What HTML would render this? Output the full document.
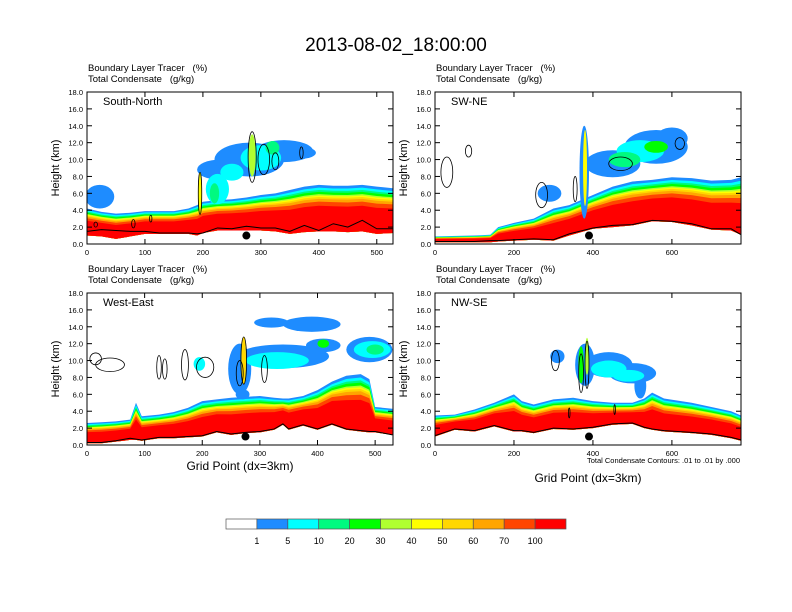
<!DOCTYPE html>
<html><head><meta charset="utf-8"><style>
body{margin:0;background:#fff;}
svg{display:block;font-family:"Liberation Sans",sans-serif;}
text{white-space:pre;}
</style></head><body>
<svg id="chart" width="792" height="612" viewBox="0 0 792 612">
<text x="396" y="51" text-anchor="middle" font-size="19">2013-08-02_18:00:00</text>
<g id="panels"></g>
<g id="colorbar"></g>
</svg>
<script>
const NS="http://www.w3.org/2000/svg";
const colors=["#ffffff","#1e8cff","#00ffff","#00fa80","#00ff00","#b0ff30","#ffff00","#ffd700","#ffa500","#ff4500","#ff0000"];
const cbLabels=["1","5","10","20","30","40","50","60","70","100"];
const bandFrac=[1,0.94,0.89,0.85,0.80,0.77,0.74,0.70,0.64,0.55];

// Panel 1: South-North
const p1Xs=[0,25,50,75,100,125,150,175,190,200,225,250,275,300,325,350,375,400,425,450,475,500,528];
const p1Top=[4.2,3.8,3.6,3.7,3.9,3.9,3.9,4.2,4.6,5.0,5.2,5.3,5.5,5.8,6.0,6.4,6.8,7.0,6.9,6.9,7.0,6.8,6.6];
const p1Bot=[1.0,0.9,0.6,0.9,1.2,1.2,1.2,1.2,1.0,1.3,1.6,1.6,1.6,1.6,1.5,1.2,1.4,1.5,1.5,1.4,1.5,1.2,1.3];
const p1Terr=[1.5,1.7,1.6,1.5,1.5,1.3,1.3,1.3,1.2,1.3,1.9,1.8,2.1,1.9,1.9,1.5,2.2,1.6,2.4,2.0,2.8,1.8,1.8];
const p1CloudX=[22,230,280,340,370,225,300,250,320,220,285,195];
const p1CloudZ=[5.6,8.8,10.0,11.0,10.8,6.5,10.2,8.5,11.4,6.0,10.5,6.0];
const p1CloudRx=[25,40,60,50,25,20,35,20,12,8,6,3];
const p1CloudRz=[1.4,1.2,2.0,1.3,0.7,1.8,1.5,1.0,0.8,1.2,2.5,2.5];
const p1CloudC=[1,1,1,1,1,2,2,2,3,3,5,6];
const p1ContX=[285,305,325,370,195,15,80,110];
const p1ContZ=[10.3,10.0,9.8,10.8,6.0,2.3,2.4,3.0];
const p1ContRx=[7,10,6,3,3,3,3,2];
const p1ContRz=[3.0,1.8,1.0,0.7,2.5,0.3,0.5,0.4];

// Panel 2: SW-NE
const p2Xs=[0,100,140,160,200,250,300,340,400,450,500,550,600,650,700,750,775];
const p2Top=[0.9,1.0,1.1,2.0,2.5,3.0,4.2,4.6,5.8,6.8,7.4,7.6,7.9,7.8,7.5,7.6,7.9];
const p2Bot=[0.2,0.2,0.2,0.3,0.4,0.5,0.4,1.0,1.8,2.0,2.2,2.7,2.6,2.2,1.7,1.6,1.1];
const p2Terr=[0.3,0.3,0.4,0.4,0.5,0.6,0.5,1.2,1.9,2.2,2.3,2.8,2.7,2.4,1.8,1.8,1.1];
const p2CloudX=[290,378,450,560,600,520,480,560,380];
const p2CloudZ=[6.0,8.5,9.5,11.5,12.5,11.0,10.0,11.5,9.0];
const p2CloudRx=[30,12,70,80,40,60,40,30,5];
const p2CloudRz=[1.0,5.5,1.6,2.0,1.3,1.3,0.9,0.7,4.5];
const p2CloudC=[1,1,1,1,1,2,3,4,6];
const p2ContX=[30,85,270,620,470,355];
const p2ContZ=[8.5,11.0,5.8,11.9,9.5,6.5];
const p2ContRx=[15,8,15,12,30,5];
const p2ContRz=[1.8,0.7,1.5,0.7,0.8,1.5];

// Panel 3: West-East
const p3Xs=[0,25,50,75,85,95,125,150,175,200,225,250,275,300,325,340,350,375,400,425,450,475,490,500,530];
const p3Top=[2.6,2.7,2.8,3.0,5.0,3.4,3.6,3.9,4.4,5.2,5.4,5.6,5.7,5.8,5.6,5.5,5.5,5.8,6.5,7.5,8.2,8.4,7.8,4.5,4.3];
const p3Bot=[0.2,0.2,0.4,0.6,0.6,0.5,0.8,0.8,0.9,1.0,1.5,1.2,1.4,1.5,1.8,2.4,1.8,2.3,1.8,2.4,1.8,1.6,1.5,1.5,1.2];
const p3Terr=[0.3,0.3,0.5,0.8,0.7,0.6,0.9,0.9,1.0,1.1,1.6,1.3,1.5,1.6,1.9,2.5,1.9,2.4,1.9,2.5,1.9,1.7,1.6,1.6,1.2];
const p3CloudX=[320,390,265,340,410,270,490,330,495,195,500,410,272];
const p3CloudZ=[14.5,14.3,9.0,10.5,11.8,6.0,11.3,10.0,11.3,9.6,11.3,12.0,10.0];
const p3CloudRx=[30,50,20,80,30,12,40,55,32,10,15,10,4];
const p3CloudRz=[0.6,0.9,3.0,1.4,0.8,0.6,1.5,1.0,1.0,0.8,0.6,0.5,2.8];
const p3CloudC=[1,1,1,1,1,1,1,2,2,2,3,4,7];
const p3ContX=[15,40,125,135,170,205,308,265,272];
const p3ContZ=[10.2,9.5,9.2,9.0,9.5,9.2,9.0,8.5,10.0];
const p3ContRx=[10,25,4,4,6,15,5,6,5];
const p3ContRz=[0.7,0.8,1.4,1.2,1.8,1.2,1.6,1.5,2.8];

// Panel 4: NW-SE
const p4Xs=[0,50,100,150,200,220,250,300,350,400,450,500,530,550,580,650,700,750,775];
const p4Top=[3.5,3.6,4.2,5.0,6.0,5.2,4.8,5.4,5.6,5.2,5.0,5.0,5.5,6.2,5.5,5.0,4.5,4.0,3.5];
const p4Bot=[1.0,1.8,1.6,2.2,1.6,1.6,1.4,1.9,1.8,2.0,2.4,2.5,2.0,1.8,1.6,1.4,1.2,0.8,0.5];
const p4Terr=[1.1,1.9,1.7,2.3,1.7,1.7,1.5,2.0,1.9,2.1,2.5,2.6,2.1,1.9,1.7,1.5,1.3,0.9,0.6];
const p4CloudX=[310,380,440,500,520,440,490,370,385];
const p4CloudZ=[10.5,9.5,9.5,8.5,7.0,9.0,8.2,9.5,10.5];
const p4CloudRx=[18,25,60,60,15,45,40,7,5];
const p4CloudRz=[0.8,2.5,1.5,1.2,1.5,1.0,0.7,2.2,2.2];
const p4CloudC=[1,1,1,1,1,2,2,4,5];
const p4ContX=[305,370,385,340,455];
const p4ContZ=[10.0,8.5,9.5,3.8,4.2];
const p4ContRx=[10,6,5,2,2];
const p4ContRz=[1.2,2.3,2.8,0.6,0.6];

const panels=[
 {name:"south-north",label:"South-North",x0:87,y0:92,xmax:528,ticks:[0,100,200,300,400,500],xs:p1Xs,top:p1Top,bot:p1Bot,terr:p1Terr,cx:p1CloudX,cz:p1CloudZ,crx:p1CloudRx,crz:p1CloudRz,cc:p1CloudC,kx:p1ContX,kz:p1ContZ,krx:p1ContRx,krz:p1ContRz,dot:275,xtitle:0},
 {name:"sw-ne",label:"SW-NE",x0:435,y0:92,xmax:775,ticks:[0,200,400,600],xs:p2Xs,top:p2Top,bot:p2Bot,terr:p2Terr,cx:p2CloudX,cz:p2CloudZ,crx:p2CloudRx,crz:p2CloudRz,cc:p2CloudC,kx:p2ContX,kz:p2ContZ,krx:p2ContRx,krz:p2ContRz,dot:390,xtitle:0},
 {name:"west-east",label:"West-East",x0:87,y0:293,xmax:531,ticks:[0,100,200,300,400,500],xs:p3Xs,top:p3Top,bot:p3Bot,terr:p3Terr,cx:p3CloudX,cz:p3CloudZ,crx:p3CloudRx,crz:p3CloudRz,cc:p3CloudC,kx:p3ContX,kz:p3ContZ,krx:p3ContRx,krz:p3ContRz,dot:275,xtitle:25},
 {name:"nw-se",label:"NW-SE",x0:435,y0:293,xmax:775,ticks:[0,200,400,600],xs:p4Xs,top:p4Top,bot:p4Bot,terr:p4Terr,cx:p4CloudX,cz:p4CloudZ,crx:p4CloudRx,crz:p4CloudRz,cc:p4CloudC,kx:p4ContX,kz:p4ContZ,krx:p4ContRx,krz:p4ContRz,dot:390,xtitle:37}
];
const W=306,H=152,ZMAX=18;
const yTicks=[0,2,4,6,8,10,12,14,16,18];

function mk(tag,attrs,parent){const e=document.createElementNS(NS,tag);for(const k in attrs)e.setAttribute(k,attrs[k]);parent.appendChild(e);return e;}

const root=document.getElementById("panels");
panels.forEach((p,pi)=>{
 const sx=v=>p.x0+v/p.xmax*W;
 const sy=z=>p.y0+H-z/ZMAX*H;
 const g=mk("g",{},root);
 
 
 const cid="clip"+pi;
 const cp=mk("clipPath",{id:cid},g);
 mk("rect",{x:p.x0,y:p.y0,width:W,height:H},cp);
 const field=mk("g",{"clip-path":"url(#"+cid+")"},g);
 
 
 bandFrac.forEach((f,k)=>{
  let pts=[];
  p.xs.forEach((x,i)=>pts.push(sx(x)+","+sy(p.bot[i]+f*(p.top[i]-p.bot[i]))));
  for(let i=p.xs.length-1;i>=0;i--)pts.push(sx(p.xs[i])+","+sy(p.bot[i]));
  const poly=mk("polygon",{points:pts.join(" "),fill:colors[k+1]},field);
  
  
 });
 p.cx.forEach((x,i)=>{
  const e=mk("ellipse",{cx:sx(x),cy:sy(p.cz[i]),rx:p.crx[i]/p.xmax*W,ry:p.crz[i]/ZMAX*H,fill:colors[p.cc[i]]},field);
  
  
 });
 p.kx.forEach((x,i)=>{
  const e=mk("ellipse",{cx:sx(x),cy:sy(p.kz[i]),rx:p.krx[i]/p.xmax*W,ry:p.krz[i]/ZMAX*H,fill:"none",stroke:"#000","stroke-width":0.8},field);
  
  
 });
 const tl=mk("polyline",{points:p.xs.map((x,i)=>sx(x)+","+sy(p.terr[i])).join(" "),fill:"none",stroke:"#000","stroke-width":1},field);
 
 
 const dot=mk("circle",{cx:sx(p.dot),cy:sy(1.0),r:4,fill:"#000"},g);
 
 
 const fr=mk("rect",{x:p.x0,y:p.y0,width:W,height:H,fill:"none",stroke:"#000","stroke-width":1},g);
 
 
 yTicks.forEach(t=>{
  const y=sy(t);
  mk("line",{x1:p.x0,x2:p.x0+5,y1:y,y2:y,stroke:"#000"},g);
  mk("line",{x1:p.x0+W,x2:p.x0+W-5,y1:y,y2:y,stroke:"#000"},g);
  const tx=mk("text",{x:p.x0-4,y:y+3,"text-anchor":"end","font-size":7.5},g);
  tx.textContent=t.toFixed(1);
  
  
 });
 p.ticks.forEach(t=>{
  const x=sx(t);
  mk("line",{x1:x,x2:x,y1:p.y0+H,y2:p.y0+H-5,stroke:"#000"},g);
  mk("line",{x1:x,x2:x,y1:p.y0,y2:p.y0+5,stroke:"#000"},g);
  const tx=mk("text",{x:x,y:p.y0+H+11,"text-anchor":"middle","font-size":7.5},g);
  tx.textContent=String(t);
  
  
 });
 const t1=mk("text",{x:p.x0+1,y:p.y0-21,"font-size":9.5},g);
 t1.textContent="Boundary Layer Tracer   (%)";
 
 
 const t2=mk("text",{x:p.x0+1,y:p.y0-10,"font-size":9.5},g);
 t2.textContent="Total Condensate   (g/kg)";
 
 
 const pl=mk("text",{x:p.x0+16,y:p.y0+13,"font-size":11},g);
 pl.textContent=p.label;
 
 
 const yt=mk("text",{x:0,y:0,"text-anchor":"middle","font-size":11,transform:"translate("+(p.x0-28)+","+(p.y0+H/2)+") rotate(-90)"},g);
 yt.textContent="Height (km)";
 
 
 if(p.xtitle){
  const xt=mk("text",{x:p.x0+W/2,y:p.y0+H+p.xtitle,"text-anchor":"middle","font-size":12},g);
  xt.textContent="Grid Point (dx=3km)";
  
  
 }
});
const ci=mk("text",{x:740,y:463,"text-anchor":"end","font-size":7.5},root);
ci.textContent="Total Condensate Contours: .01 to .01 by .000";



const cb=document.getElementById("colorbar");
const cbX=226,cbY=519,cbW=340,cbH=10,bw=cbW/colors.length;
colors.forEach((c,i)=>{
 const r=mk("rect",{x:cbX+i*bw,y:cbY,width:bw,height:cbH,fill:c,stroke:"#555","stroke-width":0.7},cb);
 
 
});
cbLabels.forEach((l,i)=>{
 const t=mk("text",{x:cbX+(i+1)*bw,y:cbY+25,"text-anchor":"middle","font-size":9},cb);
 t.textContent=l;
 
 
});
</script>
</body></html>
